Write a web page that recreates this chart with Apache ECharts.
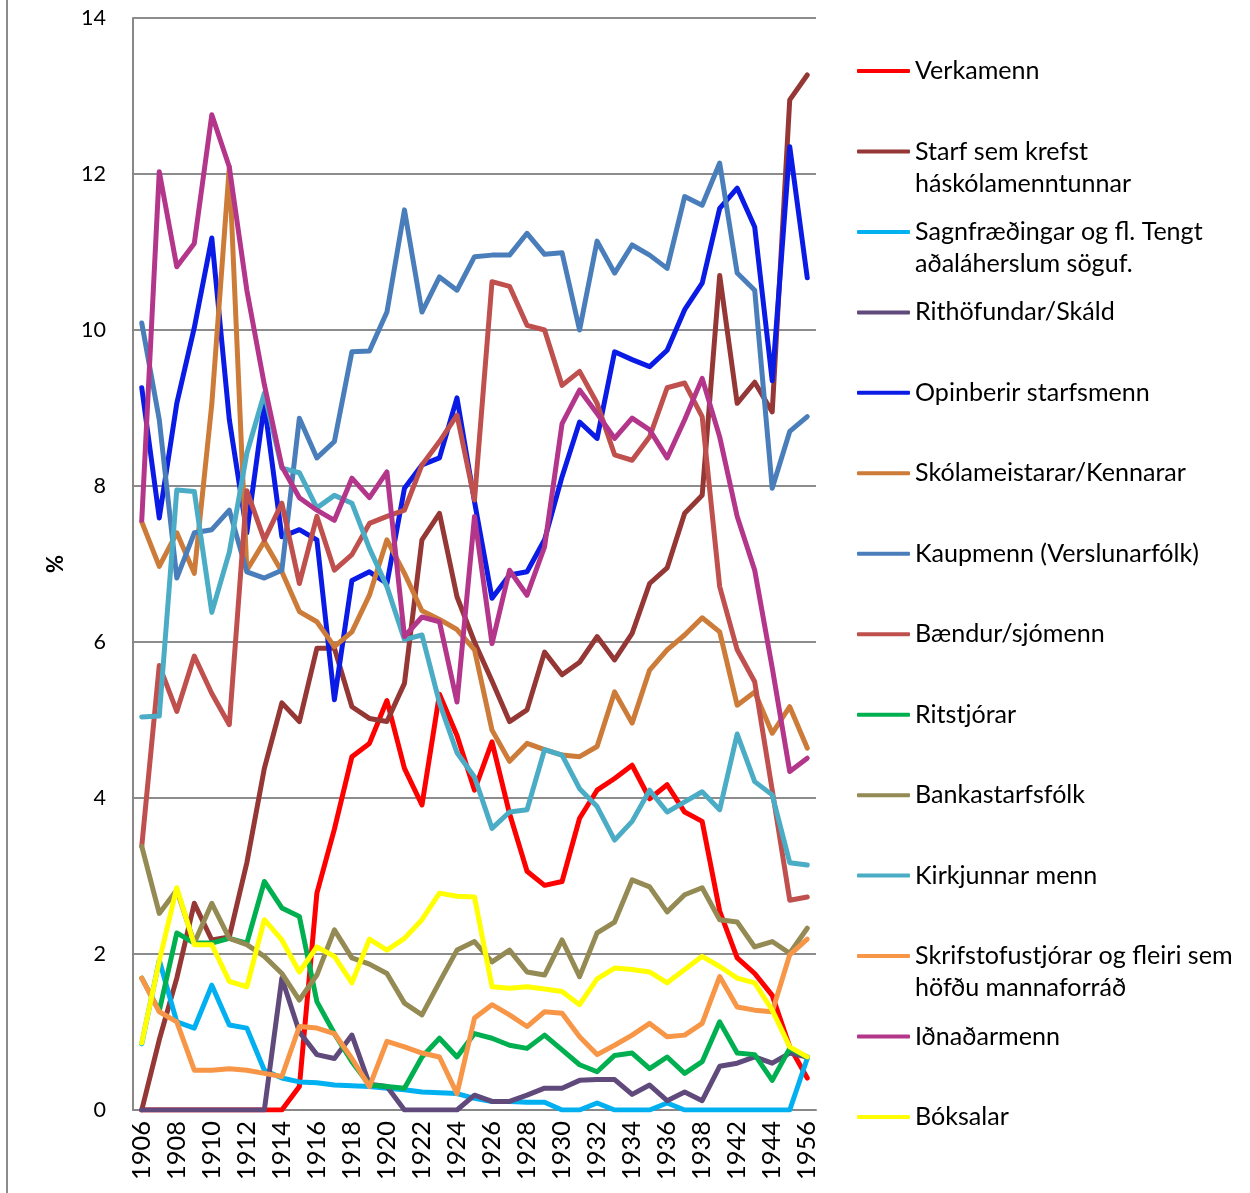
<!DOCTYPE html>
<html>
<head>
<meta charset="utf-8">
<script src="https://cdn.jsdelivr.net/npm/echarts@6.0.0/dist/echarts.min.js"></script>
<style>
  html, body { margin: 0; padding: 0; background: #fff; }
  #chart { width: 1250px; height: 1193px; }
</style>
</head>
<body>
<div id="chart"></div>
<script>
// categories (every other one gets a label on the axis)
const years = ['1906', '1907', '1908', '1909', '1910', '1911', '1912', '1913', '1914', '1915',
  '1916', '1917', '1918', '1919', '1920', '1921', '1922', '1923', '1924', '1925',
  '1926', '1927', '1928', '1929', '1930', '1931', '1932', '1933', '1934', '1935',
  '1936', '1937', '1938', '1940', '1942', '1943', '1944', '1950', '1956']

const yTicks = [0, 2, 4, 6, 8, 10, 12, 14]

const verkamenn = [0, 0, 0, 0, 0, 0, 0, 0, 0, 0.3, 2.78, 3.6, 4.53, 4.7, 5.25, 4.38, 3.91, 5.33, 4.8, 4.1,
  4.72, 3.8, 3.06, 2.88, 2.93, 3.74, 4.1, 4.25, 4.42, 3.99, 4.17, 3.82, 3.7, 2.55, 1.95, 1.75, 1.47, 0.81, 0.41]
const starf = [0, 0.9, 1.69, 2.65, 2.18, 2.22, 3.17, 4.38, 5.22, 4.98, 5.92, 5.92, 5.17, 5.02, 4.98, 5.47, 7.31, 7.65, 6.58, 6.0,
  5.5, 4.98, 5.13, 5.87, 5.58, 5.74, 6.07, 5.77, 6.11, 6.75, 6.95, 7.65, 7.88, 10.7, 9.06, 9.33, 8.95, 12.95, 13.27]
const sagnfr = [0.85, 1.92, 1.13, 1.05, 1.6, 1.09, 1.05, 0.51, 0.41, 0.36, 0.35, 0.32, 0.31, 0.3, 0.28, 0.26, 0.23, 0.22, 0.21, 0.15,
  0.11, 0.11, 0.1, 0.1, 0, 0, 0.09, 0, 0, 0, 0.09, 0, 0, 0, 0, 0, 0, 0, 0.66]
const rithof = [0, 0, 0, 0, 0, 0, 0, 0, 1.69, 1.0, 0.71, 0.66, 0.96, 0.33, 0.3, 0, 0, 0, 0, 0.19,
  0.11, 0.11, 0.19, 0.28, 0.28, 0.38, 0.39, 0.39, 0.2, 0.32, 0.12, 0.23, 0.12, 0.56, 0.6, 0.68, 0.6, 0.73, 0.68]
const opinberir = [9.26, 7.59, 9.06, 10.03, 11.18, 8.85, 7.4, 9.05, 7.35, 7.44, 7.31, 5.26, 6.79, 6.9, 6.75, 7.97, 8.27, 8.36, 9.13, 7.8,
  6.56, 6.86, 6.9, 7.31, 8.12, 8.82, 8.61, 9.72, 9.62, 9.53, 9.74, 10.26, 10.6, 11.56, 11.82, 11.32, 9.35, 12.35, 10.67]
const skolam = [7.54, 6.97, 7.4, 6.88, 9.05, 12.09, 6.92, 7.29, 6.9, 6.39, 6.26, 5.94, 6.13, 6.6, 7.31, 6.88, 6.4, 6.29, 6.16, 5.9,
  4.87, 4.47, 4.7, 4.62, 4.55, 4.53, 4.66, 5.36, 4.96, 5.64, 5.9, 6.09, 6.31, 6.13, 5.19, 5.36, 4.83, 5.17, 4.64]
const kaupmenn = [10.09, 8.85, 6.82, 7.4, 7.44, 7.69, 6.9, 6.82, 6.92, 8.87, 8.36, 8.57, 9.72, 9.73, 10.23, 11.54, 10.23, 10.68, 10.51, 10.94,
  10.96, 10.96, 11.24, 10.97, 10.99, 10.0, 11.14, 10.73, 11.09, 10.96, 10.79, 11.71, 11.6, 12.14, 10.73, 10.51, 7.97, 8.7, 8.89]
const baendur = [3.38, 5.7, 5.11, 5.82, 5.34, 4.94, 7.94, 7.31, 7.78, 6.75, 7.61, 6.92, 7.12, 7.52, 7.61, 7.69, 8.27, 8.57, 8.91, 7.82,
  10.62, 10.56, 10.06, 10.0, 9.29, 9.47, 9.06, 8.4, 8.33, 8.63, 9.26, 9.32, 8.89, 6.71, 5.9, 5.49, 4.1, 2.69, 2.73]
const ritstjorar = [1.69, 1.27, 2.27, 2.14, 2.14, 2.2, 2.14, 2.93, 2.59, 2.48, 1.39, 0.98, 0.62, 0.32, 0.3, 0.28, 0.68, 0.92, 0.68, 0.98,
  0.92, 0.83, 0.79, 0.96, 0.77, 0.58, 0.49, 0.7, 0.73, 0.53, 0.68, 0.47, 0.62, 1.13, 0.73, 0.71, 0.38, 0.79, 0.68]
const banka = [3.38, 2.52, 2.82, 2.14, 2.65, 2.2, 2.12, 1.97, 1.75, 1.41, 1.73, 2.31, 1.95, 1.87, 1.75, 1.37, 1.22, 1.64, 2.05, 2.16,
  1.9, 2.05, 1.77, 1.73, 2.18, 1.71, 2.27, 2.41, 2.95, 2.86, 2.54, 2.76, 2.85, 2.44, 2.41, 2.09, 2.16, 2.01, 2.33]
const kirkja = [5.04, 5.05, 7.95, 7.93, 6.38, 7.15, 8.42, 9.19, 8.23, 8.17, 7.72, 7.88, 7.78, 7.2, 6.71, 6.03, 6.09, 5.22, 4.58, 4.27,
  3.61, 3.82, 3.85, 4.62, 4.55, 4.12, 3.89, 3.46, 3.7, 4.1, 3.82, 3.95, 4.08, 3.85, 4.82, 4.21, 4.04, 3.17, 3.14]
const skrifst = [1.69, 1.26, 1.13, 0.51, 0.51, 0.53, 0.51, 0.47, 0.43, 1.07, 1.05, 0.98, 0.66, 0.3, 0.88, 0.81, 0.73, 0.68, 0.21, 1.18,
  1.35, 1.22, 1.07, 1.26, 1.24, 0.94, 0.71, 0.83, 0.96, 1.11, 0.94, 0.96, 1.11, 1.71, 1.32, 1.28, 1.26, 1.99, 2.19]
const idnadar = [7.56, 12.03, 10.81, 11.11, 12.76, 12.09, 10.51, 9.3, 8.25, 7.85, 7.69, 7.56, 8.1, 7.85, 8.18, 6.07, 6.32, 6.26, 5.23, 7.61,
  5.98, 6.92, 6.6, 7.22, 8.8, 9.23, 8.93, 8.61, 8.87, 8.72, 8.36, 8.85, 9.38, 8.63, 7.61, 6.92, 5.67, 4.34, 4.51]
const boksalar = [0.86, 1.91, 2.85, 2.12, 2.12, 1.65, 1.58, 2.44, 2.18, 1.77, 2.09, 1.97, 1.63, 2.19, 2.05, 2.2, 2.44, 2.78, 2.74, 2.73,
  1.58, 1.56, 1.58, 1.55, 1.52, 1.35, 1.68, 1.82, 1.8, 1.77, 1.63, 1.8, 1.97, 1.84, 1.69, 1.63, 1.28, 0.81, 0.68]

const seriesList = [
  { name: 'Verkamenn', color: '#FF0000', data: verkamenn },
  { name: 'Starf sem krefst\nháskólamenntunnar', color: '#953735', data: starf },
  { name: 'Sagnfræðingar og fl. Tengt\naðaláherslum söguf.', color: '#00B0F0', data: sagnfr },
  { name: 'Rithöfundar/Skáld', color: '#604A7B', data: rithof },
  { name: 'Opinberir starfsmenn', color: '#0B1BE6', data: opinberir },
  { name: 'Skólameistarar/Kennarar', color: '#CC7B38', data: skolam },
  { name: 'Kaupmenn (Verslunarfólk)', color: '#4A7EBB', data: kaupmenn },
  { name: 'Bændur/sjómenn', color: '#C0504D', data: baendur },
  { name: 'Ritstjórar', color: '#00B050', data: ritstjorar },
  { name: 'Bankastarfsfólk', color: '#948A54', data: banka },
  { name: 'Kirkjunnar menn', color: '#4BACC6', data: kirkja },
  { name: 'Skrifstofustjórar og fleiri sem\nhöfðu mannaforráð', color: '#F79646', data: skrifst },
  { name: 'Iðnaðarmenn', color: '#B3368B', data: idnadar },
  { name: 'Bóksalar', color: '#FFFF00', data: boksalar }
]

const FONT = 'Lato'

// pick font sizes so the text widths match the picture
const measureCtx = document.createElement('canvas').getContext('2d')
const fitSize = (text, target) => {
  measureCtx.font = '100px ' + FONT
  return 100 * target / measureCtx.measureText(text).width
}
const yLabelSize = fitSize('10', 25)
const xLabelSize = fitSize('1906', 59)
const legendSize = fitSize('Kaupmenn (Verslunarfólk)', 284)

// legend rows: centre of the first row and the distance between rows
const legendIconX = 857
const legendFirstRow = 71
const legendStep = 80.46
const legendRowH = 25

// second lines of the two-line legend entries
const extraLines = []
seriesList.forEach((s, i) => {
  const parts = s.name.split('\n')
  if (parts.length > 1) {
    extraLines.push({
      type: 'text',
      style: {
        text: parts[1],
        x: legendIconX + 58,
        y: legendFirstRow + legendStep * i + 32,
        font: legendSize + 'px ' + FONT,
        fill: '#000',
        verticalAlign: 'middle'
      }
    })
  }
})

const chart = echarts.init(document.getElementById('chart'))
chart.setOption({
  animation: false,
  backgroundColor: '#fff',
  grid: { left: 133, top: 18, width: 683, height: 1092 },
  legend: {
    orient: 'vertical',
    left: legendIconX - 5,
    top: legendFirstRow - 5 - legendRowH / 2,
    itemWidth: 53,
    itemHeight: 4,
    itemGap: legendStep - legendRowH,
    icon: 'roundRect',
    selectedMode: false,
    formatter: name => name.split('\n')[0],
    textStyle: { fontFamily: FONT, fontSize: legendSize, color: '#000', lineHeight: 24 }
  },
  xAxis: {
    type: 'category',
    data: years,
    boundaryGap: true,
    axisLine: { lineStyle: { color: '#888', width: 2 } },
    axisTick: { show: false },
    axisLabel: {
      interval: 1,
      rotate: 90,
      margin: 11,
      color: '#000',
      fontFamily: FONT,
      fontSize: xLabelSize
    }
  },
  yAxis: {
    type: 'value',
    min: yTicks[0],
    max: yTicks[yTicks.length - 1],
    interval: 2,
    name: '%',
    nameLocation: 'middle',
    nameRotate: 90,
    nameGap: 66,
    nameTextStyle: { color: '#000', fontFamily: FONT, fontSize: 22, fontWeight: 'bold' },
    axisLine: { show: true, lineStyle: { color: '#888', width: 2 } },
    axisTick: { show: false },
    axisLabel: { margin: 27, color: '#000', fontFamily: FONT, fontSize: yLabelSize },
    splitLine: { lineStyle: { color: '#8c8c8c', width: 2 } }
  },
  graphic: [
    { type: 'line', shape: { x1: 7, y1: 0, x2: 7, y2: 1193 }, style: { stroke: '#8c8c8c', lineWidth: 2 } },
    ...extraLines
  ],
  series: seriesList.map(s => ({
    name: s.name,
    type: 'line',
    data: s.data,
    symbol: 'none',
    color: s.color,
    lineStyle: { color: s.color, width: 5, cap: 'round', join: 'round' }
  }))
})
</script>
</body>
</html>
